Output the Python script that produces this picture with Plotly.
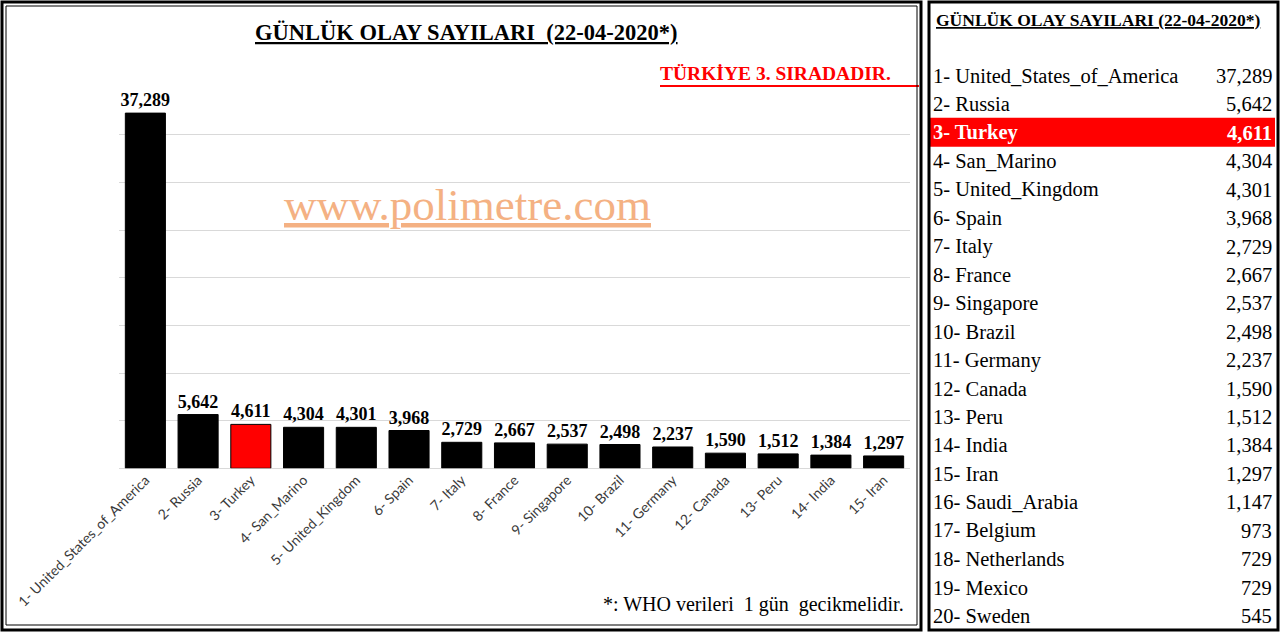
import plotly.graph_objects as go

W, H = 1286, 633

# ---------------- data ----------------
chart_countries = ["United_States_of_America", "Russia", "Turkey", "San_Marino", "United_Kingdom",
                   "Spain", "Italy", "France", "Singapore", "Brazil", "Germany", "Canada", "Peru",
                   "India", "Iran"]
chart_values = [37289, 5642, 4611, 4304, 4301, 3968, 2729, 2667, 2537, 2498, 2237, 1590, 1512, 1384, 1297]

table_countries = ["United_States_of_America", "Russia", "Turkey", "San_Marino", "United_Kingdom",
                   "Spain", "Italy", "France", "Singapore", "Brazil", "Germany", "Canada", "Peru",
                   "India", "Iran", "Saudi_Arabia", "Belgium", "Netherlands", "Mexico", "Sweden"]
table_values = [37289, 5642, 4611, 4304, 4301, 3968, 2729, 2667, 2537, 2498, 2237, 1590, 1512,
                1384, 1297, 1147, 973, 729, 729, 545]
highlight = "Turkey"

title_text = "GÜNLÜK OLAY SAYILARI\u00a0\u00a0(22-04-2020*)"
table_title = "GÜNLÜK OLAY SAYILARI (22-04-2020*)"
note_text = "*: WHO verileri\u00a0\u00a01 gün\u00a0\u00a0gecikmelidir."
rank_text = "TÜRKİYE 3. SIRADADIR."
watermark = "www.polimetre.com"

# ---------------- helpers ----------------
def px(x):
    return x / W

def py(y):
    return 1 - y / H

labels = [f"{i + 1}- {c}" for i, c in enumerate(chart_countries)]
colors = ["#FF0000" if c == highlight else "#000000" for c in chart_countries]

fig = go.Figure()
fig.add_trace(go.Bar(
    x=labels, y=chart_values,
    marker=dict(color=colors, line=dict(color="#000000", width=1)),
    text=[f"{v:,}" for v in chart_values],
    textposition="outside",
    constraintext="none",
    textfont=dict(family="Liberation Serif", size=18, color="#000000", weight="bold"),
    cliponaxis=False,
    hoverinfo="x+y",
))

SERIF = "Liberation Serif"
annotations = []
shapes = []

# chart title
annotations.append(dict(text=f"<b>{title_text}</b>", x=px(466), y=py(32), xref="paper", yref="paper",
                        showarrow=False, xanchor="center", yanchor="middle",
                        font=dict(family=SERIF, size=22.5, color="#000000", lineposition="under")))
# red rank note
annotations.append(dict(text=f"<b>{rank_text}</b>", x=px(775), y=py(74), xref="paper", yref="paper",
                        showarrow=False, xanchor="center", yanchor="middle",
                        font=dict(family=SERIF, size=19.5, color="#FF0000")))
shapes.append(dict(type="line", xref="paper", yref="paper", x0=px(660), x1=px(919), y0=py(86), y1=py(86),
                   line=dict(color="#FF0000", width=2)))
# watermark
annotations.append(dict(text=watermark, x=px(467), y=py(205), xref="paper", yref="paper",
                        showarrow=False, xanchor="center", yanchor="middle",
                        font=dict(family=SERIF, size=45, color="#F4B183", lineposition="under")))
# footnote
annotations.append(dict(text=note_text, x=px(906), y=py(604), xref="paper", yref="paper",
                        showarrow=False, xanchor="right", yanchor="middle",
                        font=dict(family=SERIF, size=20, color="#000000")))

# table header
annotations.append(dict(text=f"<b>{table_title}</b>", x=px(934), y=py(20), xref="paper", yref="paper",
                        showarrow=False, xanchor="left", yanchor="middle",
                        font=dict(family=SERIF, size=17.5, color="#000000", lineposition="under")))
row0, dy = 76, (616 - 76) / 19
for i, (c, v) in enumerate(zip(table_countries, table_values)):
    yy = row0 + i * dy
    hl = c == highlight
    col = "#FFFFFF" if hl else "#000000"
    name = f"{i + 1}- {c}"
    val = f"{v:,}"
    if hl:
        shapes.append(dict(type="rect", xref="paper", yref="paper", x0=px(929), x1=px(1275),
                           y0=py(yy - 15), y1=py(yy + 14), fillcolor="#FF0000", line=dict(width=0),
                           layer="below"))
        name, val = f"<b>{name}</b>", f"<b>{val}</b>"
    annotations.append(dict(text=name, x=px(931), y=py(yy), xref="paper", yref="paper", showarrow=False,
                            xanchor="left", yanchor="middle", font=dict(family=SERIF, size=20.5, color=col)))
    annotations.append(dict(text=val, x=px(1274), y=py(yy), xref="paper", yref="paper", showarrow=False,
                            xanchor="right", yanchor="middle", font=dict(family=SERIF, size=20.5, color=col)))

# frames
shapes.append(dict(type="rect", xref="paper", yref="paper", x0=px(2), x1=px(921), y0=py(2), y1=py(630),
                   line=dict(color="#000000", width=3), fillcolor="rgba(0,0,0,0)"))
shapes.append(dict(type="rect", xref="paper", yref="paper", x0=px(6), x1=px(917), y0=py(6), y1=py(625),
                   line=dict(color="#000000", width=1), fillcolor="rgba(0,0,0,0)"))
shapes.append(dict(type="rect", xref="paper", yref="paper", x0=px(929), x1=px(1278), y0=py(2), y1=py(630),
                   line=dict(color="#000000", width=3), fillcolor="rgba(0,0,0,0)"))

fig.update_layout(
    width=W, height=H,
    margin=dict(l=0, r=0, t=0, b=0, pad=0, autoexpand=False),
    paper_bgcolor="#FFFFFF", plot_bgcolor="#FFFFFF",
    showlegend=False,
    bargap=0.24,
    annotations=annotations,
    shapes=shapes,
    xaxis=dict(domain=[px(119), px(910)], tickangle=-45, showgrid=False, showline=False, ticks="",
               automargin=False,
               tickfont=dict(family="Lato", size=14, color="#3A3A3A")),
    yaxis=dict(domain=[py(468.3), py(87.3)], range=[0, 40000], dtick=5000, showticklabels=False,
               automargin=False,
               showgrid=True, gridcolor="#D9D9D9", gridwidth=1, zeroline=True, zerolinecolor="#D9D9D9",
               zerolinewidth=1, ticks=""),
)

fig.write_html("out.html", config={"displayModeBar": False},
               post_script="document.body.style.margin='0px';")
